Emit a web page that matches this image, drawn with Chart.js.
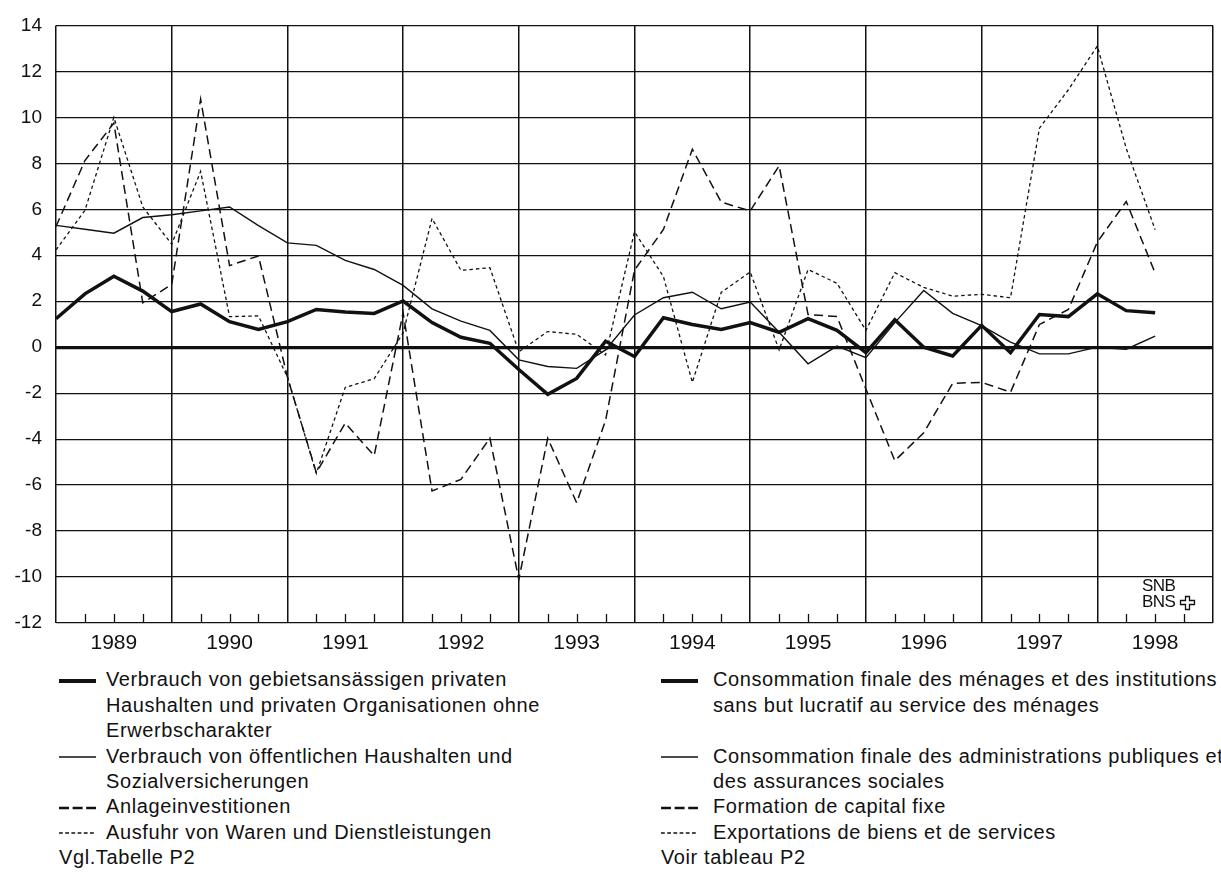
<!DOCTYPE html>
<html><head><meta charset="utf-8">
<script src="https://cdn.jsdelivr.net/npm/chart.js@4/dist/chart.umd.min.js"></script>
<style>
html,body{margin:0;padding:0;background:#fff;}
body{width:1221px;height:874px;position:relative;overflow:hidden;font-family:"Liberation Sans",Arial,sans-serif;color:#111;}
#wrap{position:absolute;left:0;top:0;width:1221px;height:660px;}
.t{position:absolute;font-size:20px;line-height:25.4px;height:25.4px;white-space:nowrap;letter-spacing:0.6px;}
.s{position:absolute;}
#logo{position:absolute;left:1142px;top:578px;font-size:17px;line-height:15.5px;letter-spacing:-0.6px;}
</style></head>
<body>
<div id="wrap"><canvas id="c" width="1221" height="660"></canvas></div>
<div id="legend"></div>
<div id="logo">SNB<br>BNS<svg width="18" height="16" style="position:absolute;left:37px;top:17px" viewBox="0 0 18 16"><path d="M6.5 1.5h4v4h5v4h-5v5h-4v-5h-5v-4h5z" fill="none" stroke="#111" stroke-width="1.3"/></svg></div>
<script>
const yearLabels = ["1989","1990","1991","1992","1993","1994","1995","1996","1997","1998"];
const yTicks = [-12,-10,-8,-6,-4,-2,0,2,4,6,8,10,12,14];
// quarterly growth rates, 39 quarters
const privat = [1.24,2.32,3.09,2.44,1.55,1.88,1.11,0.77,1.11,1.64,1.53,
  1.47,2.01,1.07,0.43,0.17,-0.97,-2.05,-1.36,0.26,-0.41,
  1.28,0.99,0.77,1.07,0.65,1.24,0.73,-0.24,1.19,0.0,
  -0.38,0.95,-0.24,1.42,1.33,2.32,1.59,1.50];
const oeffentlich = [5.30,5.13,4.96,5.64,5.76,5.93,6.10,5.29,4.54,4.43,3.78,
  3.38,2.69,1.67,1.13,0.73,-0.55,-0.84,-0.92,-0.12,1.40,
  2.15,2.39,1.67,1.96,0.65,-0.72,0.05,-0.46,1.07,2.47,
  1.47,0.94,0.22,-0.29,-0.29,0.0,-0.09,0.48];
const anlage = [5.25,8.12,9.75,1.93,2.73,10.79,3.55,3.97,-1.30,-5.46,-3.30,
  -4.72,1.50,-6.26,-5.75,-3.96,-10.1,-3.96,-6.77,-3.19,3.35,
  5.12,8.61,6.31,5.93,7.89,1.42,1.33,-1.82,-4.94,-3.72,
  -1.57,-1.53,-1.96,0.99,1.64,4.57,6.34,3.22];
const ausfuhr = [4.23,5.95,10.0,6.10,4.48,7.65,1.33,1.36,-1.30,-5.49,-1.75,
  -1.37,0.62,5.60,3.34,3.46,-0.20,0.68,0.56,-0.34,5.02,
  3.07,-1.53,2.39,3.27,-0.12,3.38,2.78,0.73,3.24,2.60,
  2.22,2.30,2.15,9.53,11.2,13.1,8.65,5.11];

const legendLeft = [
  ["thick","Verbrauch von gebietsansässigen privaten"],
  [null,"Haushalten und privaten Organisationen ohne"],
  [null,"Erwerbscharakter"],
  ["thin","Verbrauch von öffentlichen Haushalten und"],
  [null,"Sozialversicherungen"],
  ["dash","Anlageinvestitionen"],
  ["dot","Ausfuhr von Waren und Dienstleistungen"],
  ["note","Vgl.Tabelle P2"]];
const legendRight = [
  ["thick","Consommation finale des ménages et des institutions"],
  [null,"sans but lucratif au service des ménages"],
  [null,""],
  ["thin","Consommation finale des administrations publiques et"],
  [null,"des assurances sociales"],
  ["dash","Formation de capital fixe"],
  ["dot","Exportations de biens et de services"],
  ["note","Voir tableau P2"]];

const INK = '#111';
const symStyle = {
  thick:{w:4,d:''}, thin:{w:1.4,d:''}, dash:{w:2.6,d:'10,3.6'}, dot:{w:1.4,d:'3.8,2.4'}
};
function buildLegend(items, symX, textX){
  const L = document.getElementById('legend');
  items.forEach((it,i)=>{
    const cy = 680 + 25.4*i;
    const [sym, txt] = it;
    const d = document.createElement('div');
    d.className = 't';
    d.style.top = (cy - 12.7) + 'px';
    d.style.left = (sym === 'note' ? symX : textX) + 'px';
    d.textContent = txt;
    L.appendChild(d);
    if (sym && sym !== 'note') {
      const st = symStyle[sym];
      const ns = 'http://www.w3.org/2000/svg';
      const svg = document.createElementNS(ns,'svg');
      svg.setAttribute('width','37'); svg.setAttribute('height','10');
      svg.setAttribute('class','s');
      svg.style.left = symX + 'px'; svg.style.top = (cy - 4) + 'px';
      const ln = document.createElementNS(ns,'line');
      ln.setAttribute('x1','0'); ln.setAttribute('x2','37');
      ln.setAttribute('y1','5'); ln.setAttribute('y2','5');
      ln.setAttribute('stroke',INK); ln.setAttribute('stroke-width',st.w);
      if (st.d) ln.setAttribute('stroke-dasharray',st.d);
      svg.appendChild(ln);
      L.appendChild(svg);
    }
  });
}
buildLegend(legendLeft, 59, 106);
buildLegend(legendRight, 661, 713);

const toXY = arr => arr.map((v,i)=>({x:i,y:v}));
const quarterTicks = {
  id:'quarterTicks',
  afterDatasetsDraw(chart){
    const {ctx, chartArea:a, scales:{x}} = chart;
    ctx.save(); ctx.strokeStyle = INK; ctx.lineWidth = 1.3;
    for (let v = 1; v < 40; v++) {
      if (v % 4 === 0) continue;
      const px = Math.round(x.getPixelForValue(v)) + 0.5;
      ctx.beginPath(); ctx.moveTo(px, a.bottom); ctx.lineTo(px, a.bottom - 9); ctx.stroke();
    }
    ctx.restore();
  }
};
const FONT = '"Liberation Sans", Arial, sans-serif';
new Chart(document.getElementById('c'), {
  type:'line',
  data:{datasets:[
    {label:'Ausfuhr', data:toXY(ausfuhr), borderColor:INK, borderWidth:1.3, borderDash:[3.5,3], pointRadius:0, tension:0, fill:false, order:4},
    {label:'Anlage', data:toXY(anlage), borderColor:INK, borderWidth:1.5, borderDash:[9,5], pointRadius:0, tension:0, fill:false, order:3},
    {label:'Oeffentlich', data:toXY(oeffentlich), borderColor:INK, borderWidth:1.4, pointRadius:0, tension:0, fill:false, order:2},
    {label:'Privat', data:toXY(privat), borderColor:INK, borderWidth:3.5, pointRadius:0, tension:0, fill:false, order:1}
  ]},
  options:{
    responsive:false, animation:false, devicePixelRatio:1,
    layout:{padding:{top:20,right:1,left:0,bottom:0}},
    plugins:{legend:{display:false}, tooltip:{enabled:false}},
    scales:{
      x:{type:'linear', min:0, max:40,
        afterBuildTicks: s => { s.ticks = []; for (let v=0; v<=40; v++) s.ticks.push({value:v}); },
        afterFit: s => { s.height = 37; },
        ticks:{autoSkip:false, maxRotation:0, padding:8, color:INK, font:{family:FONT, size:21},
          callback: v => (v % 4 === 2 ? yearLabels[(v-2)/4] : '')},
        grid:{drawTicks:false, color: c => (c.tick && c.tick.value % 4 === 0) ? INK : 'rgba(0,0,0,0)', lineWidth:1.5},
        border:{display:false}
      },
      y:{min:-12, max:14,
        afterBuildTicks: s => { s.ticks = yTicks.map(v=>({value:v})); },
        afterFit: s => { s.width = 56; },
        ticks:{padding:14, color:INK, font:{family:FONT, size:19}},
        grid:{drawTicks:false, color:INK, lineWidth: c => (c.tick && c.tick.value === 0) ? 3.2 : 1.2},
        border:{display:false}
      }
    }
  },
  plugins:[quarterTicks]
});
</script>
</body></html>
